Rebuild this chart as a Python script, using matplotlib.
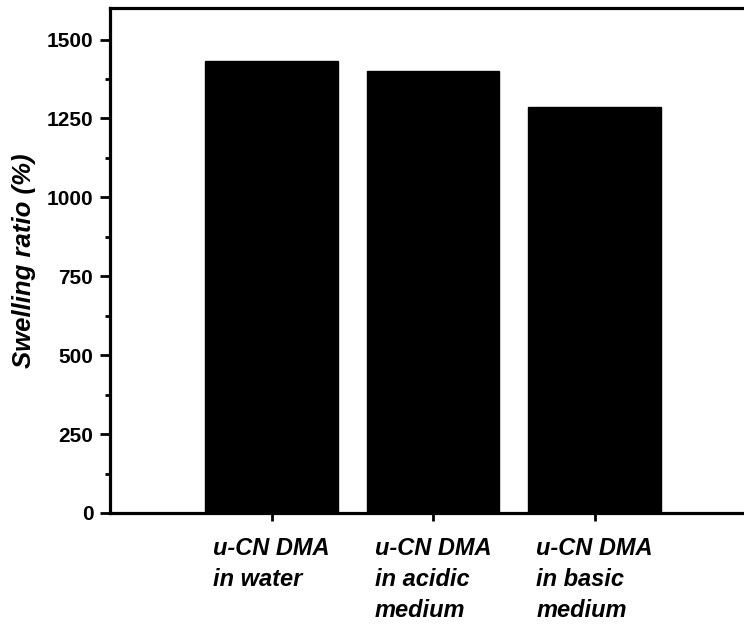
import matplotlib
matplotlib.use('Agg')
import matplotlib.pyplot as plt
from matplotlib.ticker import MultipleLocator

plt.rcParams['font.family'] = ['Liberation Sans', 'DejaVu Sans']

# 데이터
samples = ['u-CN DMA\nin water', 'u-CN DMA\nin acidic\nmedium', 'u-CN DMA\nin basic\nmedium']
swelling = [1432, 1400, 1285]
positions = [1, 2, 3]

fig = plt.figure(figsize=(7.44, 6.26), dpi=100)
ax = fig.add_axes([110 / 744, 1 - 513 / 626, 646 / 744, 505 / 626])

ax.bar(positions, swelling, width=0.82, color='black', edgecolor='black')

ax.set_xlim(0, 4)
ax.set_ylim(0, 1600)
ax.yaxis.set_major_locator(MultipleLocator(250))
ax.yaxis.set_minor_locator(MultipleLocator(125))
ax.set_xticks(positions)
ax.set_xticklabels(samples, fontsize=17, fontweight='bold', style='italic',
                   ha='center', multialignment='left', linespacing=1.45)

for lab in ax.get_yticklabels():
    lab.set_fontsize(15)
    lab.set_fontweight('bold')

for s in ax.spines.values():
    s.set_linewidth(2.3)

ax.tick_params(axis='y', which='major', direction='out', length=7, width=2, pad=5)
ax.tick_params(axis='y', which='minor', direction='out', length=3.5, width=2)
ax.tick_params(axis='x', which='major', direction='out', length=6, width=2, pad=11)

ax.set_ylabel('Swelling ratio (%)', fontsize=18.5, fontweight='bold', style='italic', labelpad=8)

fig.savefig('out.png', dpi=100)
